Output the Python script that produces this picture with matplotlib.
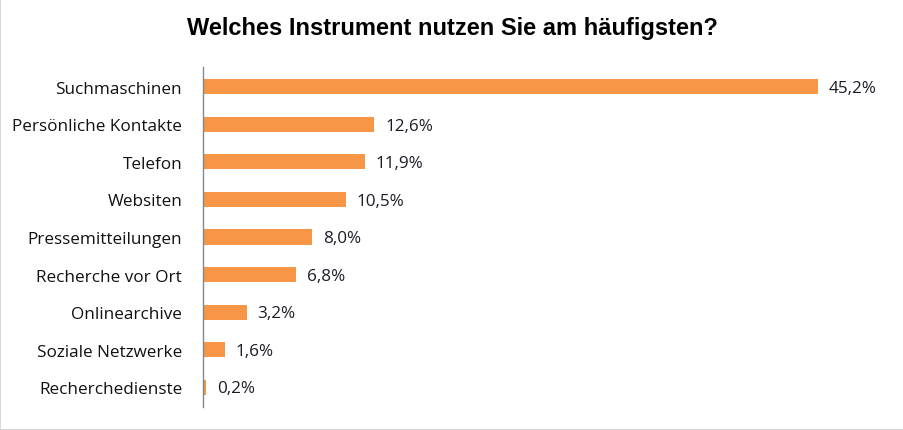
import matplotlib
matplotlib.use("Agg")
import matplotlib.pyplot as plt
from matplotlib.patches import Rectangle

categories = ["Suchmaschinen", "Persönliche Kontakte", "Telefon", "Websiten",
              "Pressemitteilungen", "Recherche vor Ort", "Onlinearchive",
              "Soziale Netzwerke", "Recherchedienste"]
values = [45.2, 12.6, 11.9, 10.5, 8.0, 6.8, 3.2, 1.6, 0.2]
value_labels = ["45,2%", "12,6%", "11,9%", "10,5%", "8,0%", "6,8%", "3,2%", "1,6%", "0,2%"]
title = "Welches Instrument nutzen Sie am häufigsten?"

W, H = 904, 431
fig = plt.figure(figsize=(W/100, H/100), dpi=100)
fig.patch.set_facecolor("white")
# thin grey frame round the picture
fig.add_artist(Rectangle((0, 0), 1, 1, transform=fig.transFigure, fill=False,
                         edgecolor="#d0d0d0", lw=1.2))

ax_l, ax_r, ax_t, ax_b = 203, 880, 68, 408
ax = fig.add_axes([ax_l/W, 1-ax_b/H, (ax_r-ax_l)/W, (ax_b-ax_t)/H])
px_per_unit = 615/45.2
ax.set_xlim(0, (ax_r-ax_l)/px_per_unit)
ax.set_ylim(len(categories)-0.5+0.03, -0.5-0.03)

y = list(range(len(categories)))
ax.barh(y, values, height=0.4, color="#F79646", edgecolor="none")
for yi, v, s in zip(y, values, value_labels):
    ax.text(v + 11/px_per_unit, yi + 0.03, s, va="center", ha="left",
            fontsize=12.3, family="Open Sans", color="#1c1c28")

ax.set_yticks(y)
ax.set_yticklabels(categories, fontsize=12.3, family="Open Sans", color="#111111")
for t in ax.get_yticklabels():
    t.set_y(t.get_position()[1])
ax.tick_params(axis="y", length=0, pad=15)
ax.set_xticks([])
for s in ["top", "right", "bottom"]:
    ax.spines[s].set_visible(False)
ax.spines["left"].set_color("#868686")
ax.spines["left"].set_linewidth(1.0)

fig.text(0.5, 1-29/H, title, ha="center", va="center", fontsize=17,
         fontweight="bold", family="Liberation Sans", color="#000000")

fig.savefig("out.png", dpi=100)
